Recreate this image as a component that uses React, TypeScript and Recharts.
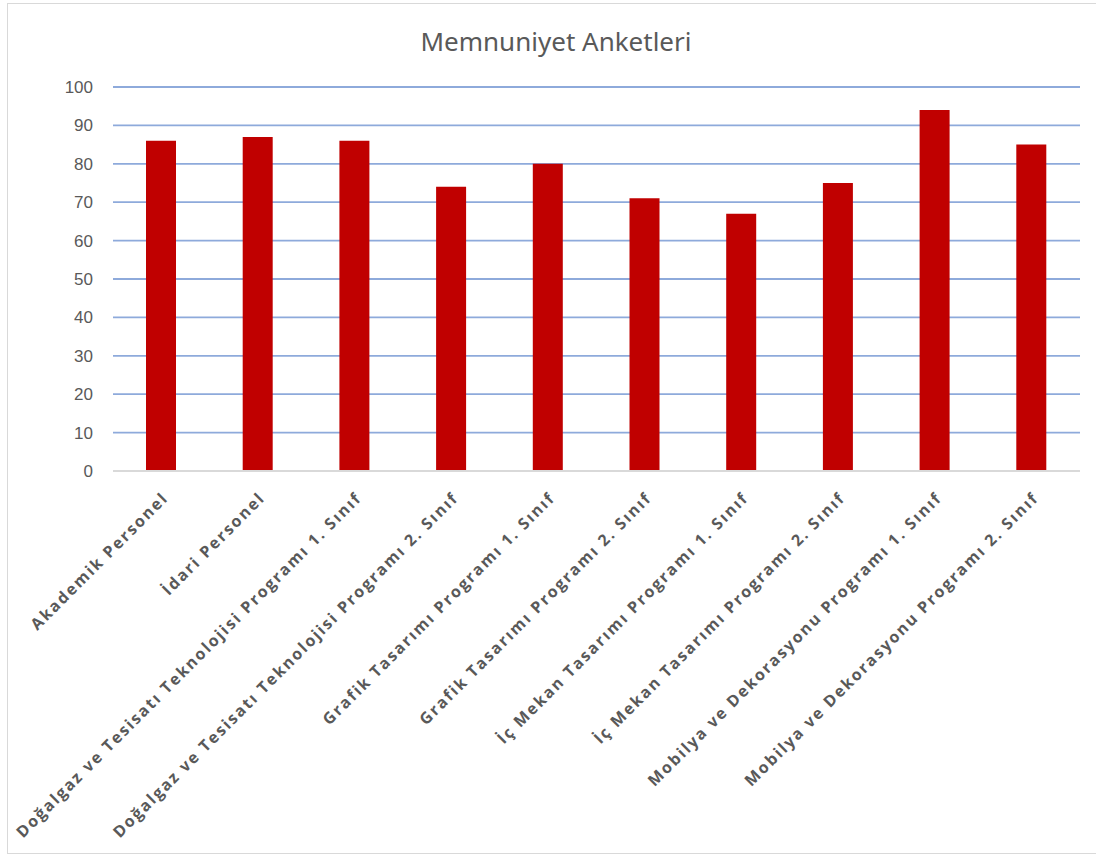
import { BarChart, Bar, XAxis, YAxis, CartesianGrid } from 'recharts'

const categories = [
  'Akademik Personel',
  'İdari Personel',
  'Doğalgaz ve Tesisatı Teknolojisi Programı 1. Sınıf',
  'Doğalgaz ve Tesisatı Teknolojisi Programı 2. Sınıf',
  'Grafik Tasarımı Programı 1. Sınıf',
  'Grafik Tasarımı Programı 2. Sınıf',
  'İç Mekan Tasarımı Programı 1. Sınıf',
  'İç Mekan Tasarımı Programı 2. Sınıf',
  'Mobilya ve Dekorasyonu Programı 1. Sınıf',
  'Mobilya ve Dekorasyonu Programı 2. Sınıf',
]
const values = [86, 87, 86, 74, 80, 71, 67, 75, 94, 85]
const yTicks = [0, 10, 20, 30, 40, 50, 60, 70, 80, 90, 100]

const data = categories.map((name, i) => ({ name, value: values[i] }))

function AngledTick({ x, y, payload }: any) {
  return (
    <g transform={`translate(${x + 8},${y + 20})`}>
      <text
        transform="rotate(-45)"
        textAnchor="end"
        fill="#595959"
        style={{ fontFamily: 'Open Sans', fontWeight: 700, fontSize: 16, letterSpacing: '1.9px' }}
      >
        {payload.value}
      </text>
    </g>
  )
}

export default function App() {
  return (
    <div style={{ position: 'absolute', left: 0, top: 0, width: 1096, height: 856, background: '#fff' }}>
      <div
        style={{
          position: 'absolute',
          left: 7,
          top: 3,
          width: 1100,
          height: 849,
          border: '1px solid #d9d9d9',
        }}
      />
      <div
        style={{
          position: 'absolute',
          left: 0,
          width: 1112,
          top: 23,
          textAlign: 'center',
          fontFamily: "'Noto Sans', sans-serif",
          fontSize: 26,
          color: '#595959',
        }}
      >
        Memnuniyet Anketleri
      </div>
      <div style={{ position: 'absolute', left: 0, top: 0 }}>
        <BarChart width={1096} height={856} data={data} margin={{ top: 87, right: 16, bottom: 0, left: 0 }}>
          <CartesianGrid vertical={false} stroke="#8eaadb" strokeWidth={1.8} />
          <XAxis
            dataKey="name"
            interval={0}
            height={385}
            tick={<AngledTick />}
            tickLine={false}
            axisLine={{ stroke: '#d9d9d9', strokeWidth: 2 }}
          />
          <YAxis
            domain={[0, 100]}
            ticks={yTicks}
            width={113}
            tickSize={0}
            tickMargin={20}
            axisLine={false}
            tickLine={false}
            tick={{ fill: '#595959', fontSize: 17, fontFamily: "'Liberation Sans', sans-serif" }}
          />
          <Bar dataKey="value" fill="#c00000" barSize={30} isAnimationActive={false} />
        </BarChart>
      </div>
    </div>
  )
}
